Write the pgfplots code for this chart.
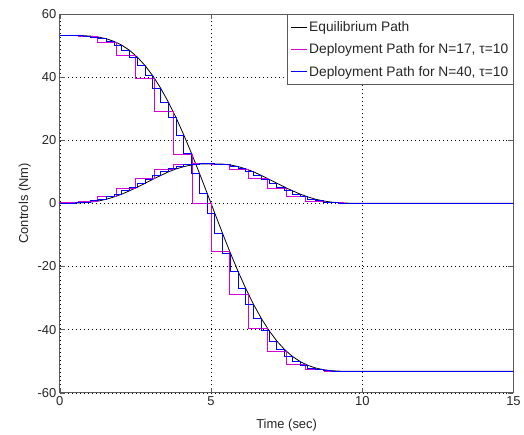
\documentclass[border=0pt]{standalone}
\usepackage{fontspec}
\setmainfont{Liberation Sans}
\usepackage{pgfplots}
\usepackage{pgfplotstable}
\pgfplotsset{compat=1.18}
\definecolor{DepMagenta}{RGB}{215,0,215}
\definecolor{DepBlue}{RGB}{0,0,255}
\definecolor{FrameGray}{RGB}{90,90,90}

\pgfplotstableread{
t u1 u2
0 53.20 0
0.625 53.17 0.15
1.25 52.72 0.70
1.875 50.98 2.30
2.5 46.92 4.85
3.125 39.69 7.85
3.75 28.97 10.60
4.375 15.37 12.20
5 0 12.50
5.625 -15.37 12.20
6.25 -28.97 10.60
6.875 -39.69 7.85
7.5 -46.92 4.85
8.125 -50.98 2.30
8.75 -52.72 0.70
9.375 -53.17 0.15
10 -53.20 0
15 -53.20 0
}\NA

\pgfplotstableread{
t u1 u2
0 53.20 0
0.2564 53.20 0.02
0.5128 53.18 0.09
0.7692 53.13 0.23
1.0256 52.97 0.41
1.2821 52.67 0.76
1.5385 52.14 1.31
1.7949 51.31 2.04
2.0513 50.11 2.94
2.3077 48.47 4.00
2.5641 46.33 5.14
2.8205 43.64 6.38
3.0769 40.37 7.63
3.3333 36.51 8.83
3.5897 32.07 9.98
3.8462 27.08 10.92
4.1026 21.61 11.65
4.3590 15.74 12.18
4.6154 9.57 12.44
4.8718 3.21 12.50
5.1282 -3.21 12.50
5.3846 -9.57 12.44
5.6410 -15.74 12.18
5.8974 -21.61 11.65
6.1538 -27.08 10.92
6.4103 -32.07 9.98
6.6667 -36.51 8.83
6.9231 -40.37 7.63
7.1795 -43.64 6.38
7.4359 -46.33 5.14
7.6923 -48.47 4.00
7.9487 -50.11 2.94
8.2051 -51.31 2.04
8.4615 -52.14 1.31
8.7179 -52.67 0.76
8.9744 -52.97 0.41
9.2308 -53.13 0.23
9.4872 -53.18 0.09
9.7436 -53.20 0.02
10 -53.20 0
15 -53.20 0
}\NB

\begin{document}
\begin{tikzpicture}
\begin{axis}[
  name=ax,
  scale only axis,
  width=455pt, height=380pt,
  xmin=0, xmax=15, ymin=-60, ymax=60,
  xtick={0,5,10,15},
  ytick={-60,-40,-20,0,20,40,60},
  tick align=inside,
  major tick length=5pt,
  tick style={FrameGray, line width=0.6pt},
  axis line style={FrameGray, line width=0.8pt},
  grid=major,
  grid style={black, line width=0.6pt, dash pattern=on 0.7pt off 3.3pt},
  /pgf/number format/assume math mode=true,
  ticklabel style={font=\fontsize{13}{15}\selectfont, text=black!85},
  label style={font=\fontsize{13}{15}\selectfont, text=black!85},
  xlabel={Time (sec)},
  ylabel={Controls (Nm)},
  xlabel style={at={(axis description cs:0.5,-0.084)}, anchor=center},
  ylabel style={at={(axis description cs:-0.077,0.5)}, anchor=center, rotate=0},
  legend style={at={(1,1)}, anchor=north east, draw=FrameGray, line width=0.6pt,
    font=\fontsize{13.8}{16}\selectfont, text=black!85, legend cell align=left,
    inner xsep=3pt, inner ysep=5pt, row sep=7pt, fill=white},
  legend image code/.code={\draw[#1] (0pt,0pt) -- (16pt,0pt);},
]
\addplot[color=black, line width=0.8pt] table[x=t, y=u1] {\NB};
\addlegendentry{Equilibrium Path}
\addplot[color=DepMagenta, line width=1pt, const plot mark right] table[x=t, y=u1] {\NA};
\addlegendentry{Deployment Path for N=17, τ=10}
\addplot[color=DepBlue, line width=1pt, const plot mark right] table[x=t, y=u1] {\NB};
\addlegendentry{Deployment Path for N=40, τ=10}
\addplot[color=black, line width=0.8pt, forget plot] table[x=t, y=u2] {\NB};
\addplot[color=DepMagenta, line width=1pt, const plot mark right, forget plot] table[x=t, y=u2] {\NA};
\addplot[color=DepBlue, line width=1pt, const plot mark right, forget plot] table[x=t, y=u2] {\NB};
\end{axis}
\path ([shift={(-60pt,-42pt)}]ax.south west) rectangle ([shift={(9pt,14pt)}]ax.north east);
\end{tikzpicture}
\end{document}
